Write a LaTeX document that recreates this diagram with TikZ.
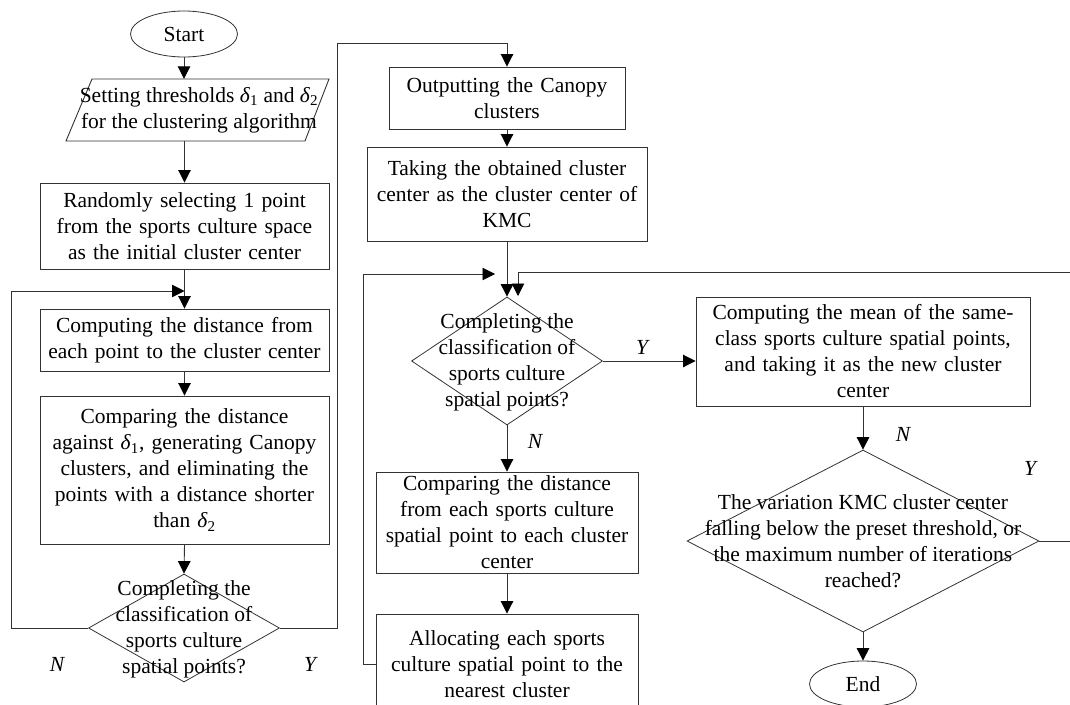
\documentclass[tikz,border=0pt]{standalone}
\usepackage{fontspec}
\setmainfont{Liberation Serif}
\usetikzlibrary{shapes.geometric,arrows.meta}
\begin{document}
\begin{tikzpicture}[x=1pt,y=-1pt,
  every node/.style={font=\fontsize{21.5}{26}\selectfont},
  line/.style={draw=black!80, line width=0.9pt},
  arr/.style={line, -{Triangle[length=12.5pt,width=12.5pt,fill=black,color=black]}},
  box/.style={rectangle, draw=black!80, line width=0.9pt, inner sep=0pt, align=center},
  dia/.style={diamond, draw=black!80, line width=0.8pt, inner sep=0pt},
  term/.style={ellipse, draw=black!80, line width=0.8pt, inner sep=0pt},
  txt/.style={align=center, inner sep=0pt},
  lab/.style={font=\fontsize{21.5}{26}\selectfont\itshape, inner sep=0pt}
]
\useasboundingbox (0,0) rectangle (1070,704);

% column 1
\node[term, minimum width=107, minimum height=46] (start) at (184,34) {Start};
\node[inner sep=0pt, minimum width=263, minimum height=62] (para) at (197.5,110) {};
\draw[line] (92,79) -- (329,79) -- (305,141) -- (66,141) -- cycle;
\node[txt] (parat) at (199,110) {Setting thresholds \textit{δ}\textsubscript{1} and \textit{δ}\textsubscript{2}\\for the clustering algorithm};
\node[box, minimum width=289, minimum height=86, text width=283] (b1) at (184.5,226) {Randomly selecting 1 point\\from the sports culture space\\as the initial cluster center};
\node[box, minimum width=289, minimum height=62, text width=283] (b2) at (184.5,340) {Computing the distance from\\each point to the cluster center};
\node[box, minimum width=289, minimum height=148, text width=283] (b3) at (184.5,470) {Comparing the distance\\against \textit{δ}\textsubscript{1}, generating Canopy\\clusters, and eliminating the\\points with a distance shorter\\than \textit{δ}\textsubscript{2}};
\node[dia, minimum width=191, minimum height=108] (d1) at (184,628) {};
\node[txt] (d1t) at (184,629) {Completing the\\classification of\\sports culture\\spatial points?};

% column 2
\node[box, minimum width=236, minimum height=62, text width=230] (o1) at (507,98) {Outputting the Canopy\\clusters};
\node[box, minimum width=280, minimum height=94, text width=274] (o2) at (507,194) {Taking the obtained cluster\\center as the cluster center of\\KMC};
\node[dia, minimum width=191, minimum height=128] (d2) at (507,361) {};
\node[txt] (d2t) at (507,362) {Completing the\\classification of\\sports culture\\spatial points?};
\node[box, minimum width=262, minimum height=101, text width=256] (o3) at (507,522.5) {Comparing the distance\\from each sports culture\\spatial point to each cluster\\center};
\node[box, minimum width=262, minimum height=100, text width=256] (o4) at (507,664) {Allocating each sports\\culture spatial point to the\\nearest cluster};

% column 3
\node[box, minimum width=334, minimum height=109, text width=328] (m1) at (863,351.5) {Computing the mean of the same-\\class sports culture spatial points,\\and taking it as the new cluster\\center};
\node[dia, minimum width=352, minimum height=182] (d3) at (863,541) {};
\node[txt] (d3t) at (863,541) {The variation KMC cluster center\\falling below the preset threshold, or\\the maximum number of iterations\\reached?};
\node[term, minimum width=107, minimum height=46] (end) at (863,684) {End};

% connectors column 1
\draw[arr] (start) -- (start.south |- para.north);
\draw[arr] (para.south -| b1.north) -- (b1.north);
\draw[arr] (b1.south) -- (b2.north);
\coordinate (j1) at (b1.south |- 0,291);
\draw[arr] (d1.west) -- (11,628) -- (11,291) -- (j1);
\draw[arr] (b2.south) -- (b3.north);
\draw[arr] (b3.south) -- (d1.north);
\draw[arr] (d1.east) -- (337,628) -- (337,43) -- (507,43) -- (o1.north);

% connectors column 2
\draw[arr] (o1.south) -- (o2.north);
\draw[arr] (o2.south) -- (d2.north);
\coordinate (j2) at (495,274);
\draw[arr] (o4.west) -- (363,664) -- (363,274) -- (j2);
\draw[arr] (d2.east) -- (d2.east -| m1.west);
\draw[arr] (d2.south) -- (o3.north);
\draw[arr] (o3.south) -- (o4.north);

% connectors column 3
\draw[arr] (m1.south) -- (d3.north);
\draw[arr] (d3.south) -- (end.north);
\coordinate (j3) at (518,296);
\draw[arr] (d3.east) -- (1085,541) -- (1085,272) -- (518,272) -- (j3);

% labels
\node[lab] (n1) at (57,664) {N};
\node[lab] (y1) at (310,664) {Y};
\node[lab] (y2) at (642,347) {Y};
\node[lab] (n2) at (535,441) {N};
\node[lab] (n3) at (903,434) {N};
\node[lab] (y3) at (1030,468) {Y};
\end{tikzpicture}
\end{document}
